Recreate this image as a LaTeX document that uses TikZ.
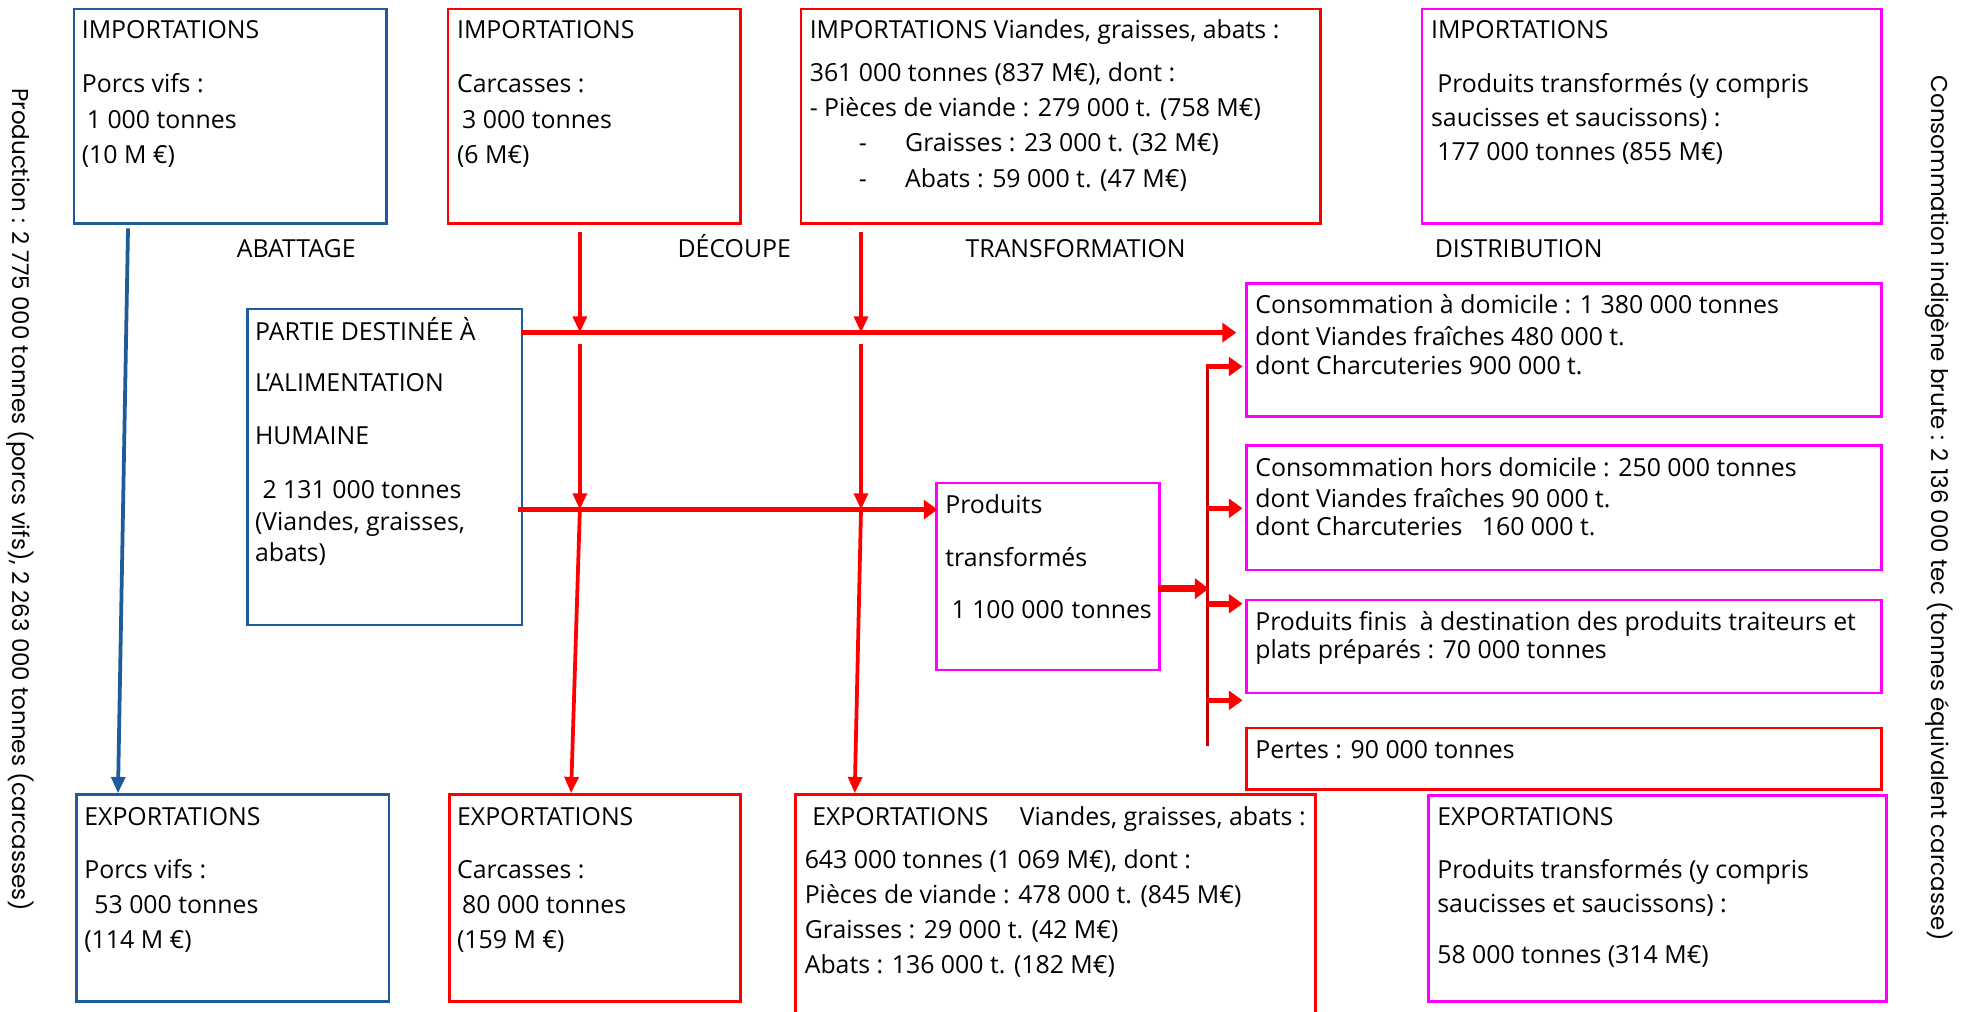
\documentclass[tikz,border=0pt]{standalone}
\usepackage{fontspec}
\setmainfont{Open Sans}
\newfontfamily\sidefont{Poppins}
\usetikzlibrary{arrows.meta}
\definecolor{cblue}{RGB}{31,90,155}
\definecolor{cred}{RGB}{255,0,0}
\definecolor{cmag}{RGB}{255,0,255}
\definecolor{cdark}{RGB}{195,0,0}
\begin{document}
\begin{tikzpicture}[x=1pt,y=-1pt,
  box/.style={draw,line width=2pt,inner sep=0,anchor=north west,fill=none},
  txt/.style={anchor=base west,inner sep=0,font=\fontsize{19.8}{23}\selectfont},
  stage/.style={anchor=base,inner sep=0,font=\fontsize{19.8}{23}\selectfont},
  side/.style={inner sep=0,rotate=-90,font=\sidefont\fontsize{18.3}{21}\selectfont},
  arrB/.style={cblue,line width=3pt,-{Triangle[length=13pt,width=11pt]}},
  arrR/.style={cred,line width=3pt,-{Triangle[length=13pt,width=11pt]}},
  arrT/.style={cred,line width=4.5pt,-{Triangle[length=11pt,width=15pt]}},
]
\useasboundingbox (0,0) rectangle (1568,806);
\fill[white] (0,0) rectangle (1568,806);

% side texts
\node[side] (lside) at (16,398) {Production : 2 775 000 tonnes (porcs vifs), 2 263 000 tonnes (carcasses)};
\node[side] (rside) at (1545,405) {Consommation indigène brute : 2 136 000 tec (tonnes équivalent carcasse)};

% import boxes
\node[box,cblue,minimum width=249,minimum height=171] (ip) at (58,6) {};
\node[txt] (ip1) at (65,31) {IMPORTATIONS};
\node[txt] (ip2) at (65,74) {Porcs vifs :};
\node[txt] (ip3) at (69,102) {1 000 tonnes};
\node[txt] (ip4) at (65,130) {(10 M €)};

\node[box,cred,minimum width=233,minimum height=171] (ic) at (356,6) {};
\node[txt] (ic1) at (364,31) {IMPORTATIONS};
\node[txt] (ic2) at (364,74) {Carcasses :};
\node[txt] (ic3) at (368,102) {3 000 tonnes};
\node[txt] (ic4) at (364,130) {(6 M€)};

\node[box,cred,minimum width=414,minimum height=171] (iv) at (637,6) {};
\node[txt] (iv1) at (645,31) {IMPORTATIONS Viandes, graisses, abats :};
\node[txt] (iv2) at (645,65) {361 000 tonnes (837 M€), dont :};
\node[txt] (iv3) at (645,93) {- Pièces de viande : 279 000 t. (758 M€)};
\node[txt] (iv4a) at (684,121) {-};
\node[txt] (iv4) at (721,121) {Graisses : 23 000 t. (32 M€)};
\node[txt] (iv5a) at (684,149) {-};
\node[txt] (iv5) at (721,149) {Abats : 59 000 t. (47 M€)};

\node[box,cmag,minimum width=366,minimum height=171] (iP) at (1132,6) {};
\node[txt] (iP1) at (1140,31) {IMPORTATIONS};
\node[txt] (iP2) at (1145,74) {Produits transformés (y compris};
\node[txt] (iP3) at (1140,101) {saucisses et saucissons) :};
\node[txt] (iP4) at (1145,128) {177 000 tonnes (855 M€)};

% stage labels
\node[stage] (s1) at (236,205) {ABATTAGE};
\node[stage] (s2) at (585,205) {DÉCOUPE};
\node[stage] (s3) at (857,205) {TRANSFORMATION};
\node[stage] (s4) at (1210,205) {DISTRIBUTION};

% middle boxes
\node[box,cblue,minimum width=219,minimum height=252] (pa) at (196,245) {};
\node[txt] (pa1) at (203,271) {PARTIE DESTINÉE À};
\node[txt] (pa2) at (203,312) {L’ALIMENTATION};
\node[txt] (pa3) at (203,354) {HUMAINE};
\node[txt] (pa4) at (209,397) {2 131 000 tonnes};
\node[txt] (pa5) at (203,423) {(Viandes, graisses,};
\node[txt] (pa6) at (203,447) {abats)};

\node[box,cmag,minimum width=178,minimum height=149] (pt) at (745,384) {};
\node[txt] (pt1) at (753,409) {Produits};
\node[txt] (pt2) at (753,451) {transformés};
\node[txt] (pt3) at (758,493) {1 100 000 \hspace{1pt}tonnes};

\node[box,cmag,minimum width=506,minimum height=106] (cd) at (992,225) {};
\node[txt] (cd1) at (1000,250) {Consommation à domicile : 1 380 000 tonnes};
\node[txt] (cd2) at (1000,275) {dont Viandes fraîches 480 000 t.};
\node[txt] (cd3) at (1000,298) {dont Charcuteries 900 000 t.};

\node[box,cmag,minimum width=506,minimum height=99] (ch) at (992,354) {};
\node[txt] (ch1) at (1000,380) {Consommation hors domicile : 250 000 tonnes};
\node[txt] (ch2) at (1000,404) {dont Viandes fraîches 90 000 t.};
\node[txt] (ch3) at (1000,427) {dont Charcuteries\ \ \ 160 000 t.};

\node[box,cmag,minimum width=506,minimum height=74] (pf) at (992,477) {};
\node[txt] (pf1) at (1000,502) {Produits finis\ \ à destination des produits traiteurs et};
\node[txt] (pf2) at (1000,525) {plats préparés : 70 000 tonnes};

\node[box,cred,minimum width=506,minimum height=49] (pe) at (992,579) {};
\node[txt] (pe1) at (1000,604) {Pertes : 90 000 tonnes};

% export boxes
\node[box,cblue,minimum width=249,minimum height=165] (ep) at (60,632) {};
\node[txt] (ep1) at (67,658) {EXPORTATIONS};
\node[txt] (ep2) at (67,700) {Porcs vifs :};
\node[txt] (ep3) at (75,728) {53 000 tonnes};
\node[txt] (ep4) at (67,756) {(114 M €)};

\node[box,cred,minimum width=232,minimum height=165] (ec) at (357,632) {};
\node[txt] (ec1) at (364,658) {EXPORTATIONS};
\node[txt] (ec2) at (364,700) {Carcasses :};
\node[txt] (ec3) at (368,728) {80 000 tonnes};
\node[txt] (ec4) at (364,756) {(159 M €)};

\node[box,cred,minimum width=414,minimum height=185] (ev) at (633,632) {};
\node[txt] (ev1) at (647,658) {EXPORTATIONS\hspace{25pt}Viandes, graisses, abats :};
\node[txt] (ev2) at (641,692) {643 000 tonnes (1 069 M€), dont :};
\node[txt] (ev3) at (641,720) {Pièces de viande : 478 000 t. (845 M€)};
\node[txt] (ev4) at (641,748) {Graisses : 29 000 t. (42 M€)};
\node[txt] (ev5) at (641,776) {Abats : 136 000 t. (182 M€)};

\node[box,cmag,minimum width=365,minimum height=164] (eP) at (1137,633) {};
\node[txt] (eP1) at (1145,658) {EXPORTATIONS};
\node[txt] (eP2) at (1145,700) {Produits transformés (y compris};
\node[txt] (eP3) at (1145,727) {saucisses et saucissons) :};
\node[txt] (eP4) at (1145,768) {58 000 tonnes (314 M€)};

% coordinates for free ends / junctions
\coordinate (b0) at (102,182);
\coordinate (b1) at (94,632);
\coordinate (a0) at (462,185);
\coordinate (a1) at (462,265);
\coordinate (a2) at (462,274);
\coordinate (a3) at (462,406);
\coordinate (a4) at (455,632);
\coordinate (c0) at (686,185);
\coordinate (c1) at (686,265);
\coordinate (c2) at (686,274);
\coordinate (c3) at (686,406);
\coordinate (c4) at (681,632);
\coordinate (h1s) at (415,265);
\coordinate (h1e) at (985,265);
\coordinate (h2s) at (413,406);
\coordinate (h2e) at (747,406);
\coordinate (t0) at (923,469);
\coordinate (t1) at (963,469);
\coordinate (bt) at (962,292);
\coordinate (bb) at (962,594);
\coordinate (r1) at (990,292);
\coordinate (r2) at (990,405);
\coordinate (r3) at (990,481);
\coordinate (r4) at (990,558);
\coordinate (q2) at (962,405);
\coordinate (q3) at (962,481);
\coordinate (q4) at (962,558);

% connectors
\draw[arrB] (b0) -- (b1);
\draw[arrT] (h1s) -- (h1e);
\draw[arrT] (h2s) -- (h2e);
\draw[arrR] (a0) -- (a1);
\draw[arrR] (a2) -- (a3);
\draw[arrR] (a3) -- (a4);
\draw[arrR] (c0) -- (c1);
\draw[arrR] (c2) -- (c3);
\draw[arrR] (c3) -- (c4);
\draw[cdark,line width=3pt] (bt) -- (bb);
\draw[cred,line width=6pt,-{Triangle[length=11pt,width=16pt]}] (t0) -- (t1);
\draw[arrT] ([xshift=-1.5pt]bt) -- (r1);
\draw[arrT] (q2) -- (r2);
\draw[arrT] (q3) -- (r3);
\draw[arrT] (q4) -- (r4);
\end{tikzpicture}
\end{document}
